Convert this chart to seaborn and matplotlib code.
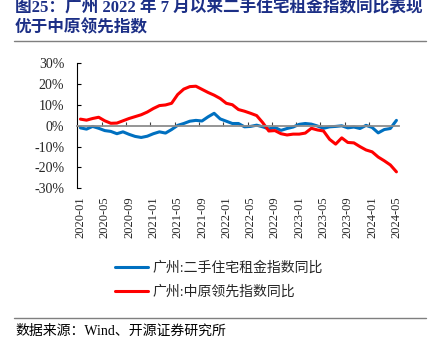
import numpy as np
import pandas as pd
import matplotlib
matplotlib.use('Agg')
import matplotlib.pyplot as plt
import seaborn as sns

# monthly categories 2020-01 .. 2024-05
months = pd.date_range('2020-01-01', periods=53, freq='MS').strftime('%Y-%m').tolist()

# 广州:二手住宅租金指数同比 (%)
rent_yoy = [-1.0, -1.6, -0.3, -1.2, -2.3, -2.7, -3.8, -2.9, -4.1, -5.1,
            -5.6, -5.0, -3.8, -2.9, -3.5, -1.8, 0.2, 1.1, 2.2, 2.6,
            2.3, 4.3, 6.0, 3.3, 2.2, 1.1, 1.1, -0.5, -0.3, 0.3,
            -0.5, -1.5, -0.8, -2.2, -1.3, -0.6, 0.7, 1.1, 0.8, -0.1,
            -1.2, -0.5, -0.3, 0.0, -1.0, -0.6, -1.3, 0.2, -0.8, -3.4,
            -1.8, -1.3, 2.6]

# 广州:中原领先指数同比 (%)
cla_yoy = [3.2, 2.7, 3.5, 4.1, 2.4, 1.2, 1.3, 2.4, 3.5, 4.4,
           5.3, 6.6, 8.3, 9.7, 10.0, 10.8, 15.0, 17.6, 18.8, 19.0,
           17.5, 16.0, 14.7, 13.1, 10.8, 10.1, 7.8, 7.0, 6.0, 4.9,
           1.5, -2.5, -2.3, -3.8, -4.4, -4.0, -4.0, -3.5, -1.2, -2.0,
           -2.5, -6.5, -8.8, -5.8, -8.0, -8.2, -10.0, -11.6, -12.5, -15.0,
           -16.8, -18.8, -22.1]

series_names = ['广州:二手住宅租金指数同比', '广州:中原领先指数同比']
series_colors = ['#0070C0', '#FF0000']

title_lines = ['图25：广州 2022 年 7 月以来二手住宅租金指数同比表现', '优于中原领先指数']
source_text = '数据来源：Wind、开源证券研究所'

df = pd.concat([
    pd.DataFrame({'idx': range(len(months)), 'value': rent_yoy, 'series': series_names[0]}),
    pd.DataFrame({'idx': range(len(months)), 'value': cla_yoy, 'series': series_names[1]}),
])

sns.set_theme(style='white')
fam = ['Liberation Serif', 'Noto Sans CJK SC', 'DejaVu Sans']
plt.rcParams['font.family'] = fam

fig = plt.figure(figsize=(4.3, 3.53), dpi=100)
ax = fig.add_axes([0.18, 0.4666, 0.749, 0.3541])

sns.lineplot(data=df, x='idx', y='value', hue='series', hue_order=series_names,
             palette=dict(zip(series_names, series_colors)), linewidth=2.2,
             ax=ax, legend=True)

ax.set_xlim(-0.5, len(months) - 0.5)
ax.set_ylim(-30, 30)
ax.set_xlabel('')
ax.set_ylabel('')

# y axis
ax.set_yticks(range(-30, 31, 10))
ax.set_yticklabels([f'{v}%' for v in range(-30, 31, 10)])
ax.tick_params(axis='y', direction='in', length=3, width=0.8, color='black',
               labelsize=10, pad=9.5, left=True)
ax.spines['left'].set_color('black')
ax.spines['left'].set_linewidth(0.8)
ax.spines['top'].set_visible(False)
ax.spines['right'].set_visible(False)

# horizontal category axis crossing at zero, tick marks between categories
ax.spines['bottom'].set_position(('data', 0))
ax.spines['bottom'].set_color('#8c8c8c')
ax.spines['bottom'].set_linewidth(1.3)
ax.set_xticks(np.arange(3.5, len(months) - 1, 4))
ax.set_xticklabels([])
ax.tick_params(axis='x', direction='in', length=3, width=0.8, color='#404040', bottom=True)

# labels at the bottom of the plot
sec = ax.secondary_xaxis('bottom')
sec.set_xticks(range(0, len(months), 4))
sec.set_xticklabels(months[::4], rotation=90)
sec.spines['bottom'].set_visible(False)
sec.tick_params(axis='x', length=0, pad=5.5, labelsize=9)

# legend below the chart
handles, labels = ax.get_legend_handles_labels()
ax.legend_.remove()
fig.legend(handles, labels, loc='upper left', bbox_to_anchor=(0.2674, 0.2606),
           bbox_transform=fig.transFigure, frameon=False, fontsize=10,
           handlelength=2.4, handletextpad=0.3, labelspacing=0.75,
           borderpad=0, borderaxespad=0)

# title and source
fig.text(15 / 430, 1 - 8 / 353, title_lines[0], fontsize=12, fontweight='bold',
         color='#1c2f86', va='center', ha='left', family=fam)
fig.text(15 / 430, 1 - 28 / 353, title_lines[1], fontsize=12, fontweight='bold',
         color='#1c2f86', va='center', ha='left', family=fam)
fig.add_artist(plt.Line2D([14 / 430, 426 / 430], [1 - 41 / 353, 1 - 41 / 353],
                          color='#7f7f7f', linewidth=1, transform=fig.transFigure))
fig.add_artist(plt.Line2D([14 / 430, 426 / 430], [1 - 318 / 353, 1 - 318 / 353],
                          color='#7f7f7f', linewidth=1, transform=fig.transFigure))
fig.text(15 / 430, 1 - 331 / 353, source_text, fontsize=10, color='black',
         va='center', ha='left', family=fam)

fig.savefig('out.png', dpi=100)
